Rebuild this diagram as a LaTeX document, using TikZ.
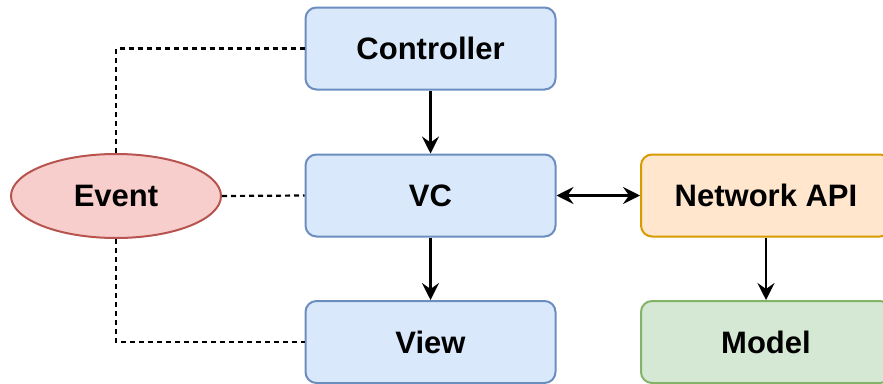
\documentclass[tikz,border=0pt]{standalone}
\usepackage{fontspec}
\setmainfont{Liberation Sans}
\usetikzlibrary{arrows.meta,shapes.geometric}

\definecolor{blueFill}{HTML}{DAE8FC}
\definecolor{blueLine}{HTML}{6C8EBF}
\definecolor{orangeFill}{HTML}{FFE6CC}
\definecolor{orangeLine}{HTML}{D79B00}
\definecolor{greenFill}{HTML}{D5E8D4}
\definecolor{greenLine}{HTML}{82B366}
\definecolor{redFill}{HTML}{F8CECC}
\definecolor{redLine}{HTML}{B85450}

\tikzset{
  box/.style={rectangle, rounded corners=11pt, line width=2pt,
    minimum width=250pt, minimum height=82pt, inner sep=0pt,
    font=\fontsize{31}{35}\selectfont\bfseries},
  bluebox/.style={box, fill=blueFill, draw=blueLine},
  orangebox/.style={box, fill=orangeFill, draw=orangeLine},
  greenbox/.style={box, fill=greenFill, draw=greenLine},
  eventshape/.style={ellipse, fill=redFill, draw=redLine, line width=2pt,
    minimum width=210pt, minimum height=84pt, inner sep=0pt,
    font=\fontsize{31}{35}\selectfont\bfseries},
  flow/.style={line width=2.2pt, -{Stealth[length=17pt,width=17pt,inset=6pt]}},
  twoway/.style={line width=2.2pt, {Stealth[length=17pt,width=17pt,inset=6pt]}-{Stealth[length=17pt,width=17pt,inset=6pt]}},
  eventlink/.style={line width=2.2pt, dash pattern=on 5pt off 4pt},
}

\begin{document}
\begin{tikzpicture}[x=1pt, y=-1pt]
  \path[use as bounding box, clip] (0,0) rectangle (883,383);

  % components
  \node[bluebox]   (ctrl)  at (430.5, 48.5)  {Controller};
  \node[bluebox]   (vc)    at (430.5, 195.5) {VC};
  \node[bluebox]   (view)  at (430.5, 342)   {View};
  \node[orangebox] (api)   at (766, 195.5)   {Network API};
  \node[greenbox]  (model) at (766, 342)     {Model};
  \node[eventshape] (event) at (116, 196)    {Event};

  % dashed event links
  \draw[eventlink] (event.north) |- (ctrl.west);
  \draw[eventlink] (event.east) -- (vc.west);
  \draw[eventlink] (event.south) |- (view.west);

  % data flow
  \draw[flow] (ctrl.south) -- (vc.north);
  \draw[flow] (vc.south) -- (view.north);
  \draw[twoway] (vc.east) -- (api.west);
  \draw[flow] (api.south) -- (model.north);
\end{tikzpicture}
\end{document}
